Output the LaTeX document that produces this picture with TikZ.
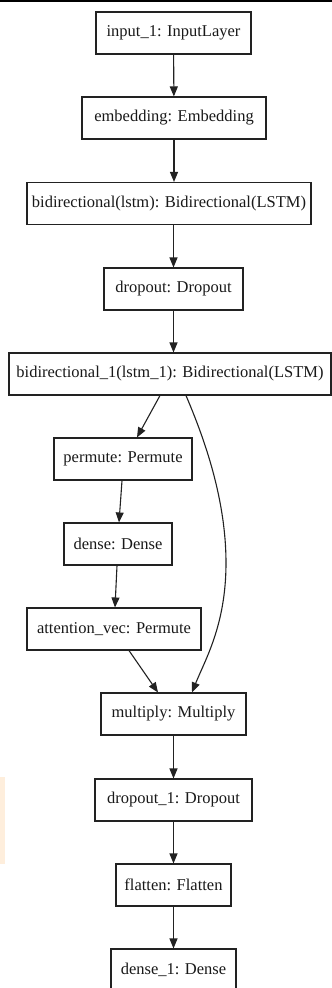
\documentclass[tikz,border=0pt]{standalone}
\usepackage{fontspec}
\setmainfont{Liberation Serif}
\usetikzlibrary{arrows.meta}
\definecolor{edge}{HTML}{222222}
\definecolor{patch}{HTML}{FEEEDC}
\tikzset{
  layer/.style={draw=edge, line width=1.1pt, inner sep=0pt, minimum height=42pt, font=\fontsize{16.5}{18}\selectfont, text=black!90},
  conn/.style={draw=edge, line width=1.1pt, -{Triangle[length=10pt,width=8pt]}}
}
\begin{document}
\begin{tikzpicture}[x=1pt,y=-1pt]
\useasboundingbox (0,0) rectangle (332,988);
\fill[white] (0,0) rectangle (332,988);
\fill[black] (0,0) rectangle (332,2);
\fill[patch] (0,777) rectangle (5,864);
\node[layer, minimum width=155pt] (in) at (173.5,33) {input\_1: InputLayer};
\node[layer, minimum width=184pt] (emb) at (174,118) {embedding: Embedding};
\node[layer, minimum width=284pt] (bi) at (169,203.5) {bidirectional(lstm): Bidirectional(LSTM)};
\node[layer, minimum width=139pt] (do) at (173.5,289) {dropout: Dropout};
\node[layer, minimum width=322pt] (bi1) at (170,374) {bidirectional\_1(lstm\_1): Bidirectional(LSTM)};
\node[layer, minimum width=138pt] (perm) at (123,459) {permute: Permute};
\node[layer, minimum width=108pt] (dense) at (118,544) {dense: Dense};
\node[layer, minimum width=174pt] (att) at (114,629) {attention\_vec: Permute};
\node[layer, minimum width=145pt] (mul) at (173.5,714) {multiply: Multiply};
\node[layer, minimum width=157pt] (do1) at (173.5,800) {dropout\_1: Dropout};
\node[layer, minimum width=115pt] (fl) at (173.5,885) {flatten: Flatten};
\node[layer, minimum width=125pt] (d1) at (173.5,970) {dense\_1: Dense};
\draw[conn] (in) -- (emb);
\draw[conn] (emb) -- (emb |- bi.north);
\draw[conn] (bi.south -| do) -- (do);
\draw[conn] (do) -- (do |- bi1.north);
\draw[conn] ([xshift=-10pt]bi1.south) -- ([xshift=14pt]perm.north);
\draw[conn] ([xshift=16pt]bi1.south) .. controls (205,440) and (226,500) .. (226,563) .. controls (226,625) and (205,660) .. ([xshift=18.5pt]mul.north);
\draw[conn] ([xshift=-1pt]perm.south) -- ([xshift=1pt]dense.north);
\draw[conn] ([xshift=-1pt]dense.south) -- ([xshift=1pt]att.north);
\draw[conn] ([xshift=15pt]att.south) -- ([xshift=-15.5pt]mul.north);
\draw[conn] (mul) -- (do1);
\draw[conn] (do1) -- (fl);
\draw[conn] (fl) -- (d1);
\end{tikzpicture}
\end{document}
